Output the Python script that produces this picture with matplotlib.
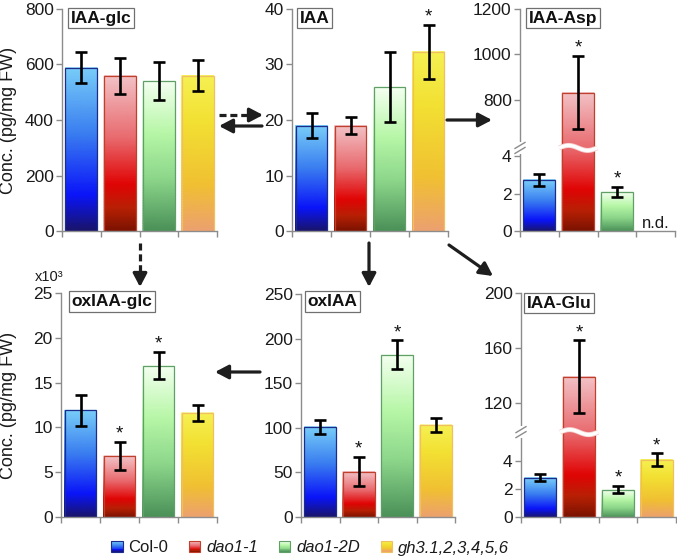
import numpy as np
import matplotlib
matplotlib.use('Agg')
import matplotlib.pyplot as plt
from matplotlib.colors import LinearSegmentedColormap
from matplotlib.patches import FancyArrowPatch, Rectangle, Patch
from matplotlib.lines import Line2D
from matplotlib.legend_handler import HandlerBase
import matplotlib.transforms as mtransforms

plt.rcParams['font.family'] = ['Liberation Sans', 'DejaVu Sans']

# ---------------- data ----------------
genotypes = ['Col-0', 'dao1-1', 'dao1-2D', 'gh3.1,2,3,4,5,6']

iaa_glc = [588, 560, 540, 560]
iaa_glc_err = [56, 65, 68, 56]
iaa_glc_sig = [False, False, False, False]

iaa = [19.0, 19.0, 25.9, 32.3]
iaa_err = [2.3, 1.5, 6.3, 4.9]
iaa_sig = [False, False, False, True]

iaa_asp = [2.74, 832, 2.1, np.nan]          # gh3: n.d.
iaa_asp_err = [0.34, 160, 0.27, np.nan]
iaa_asp_sig = [False, True, True, False]

oxiaa_glc = [11.9, 6.8, 16.9, 11.6]          # x10^3
oxiaa_glc_err = [1.7, 1.55, 1.55, 0.9]
oxiaa_glc_sig = [False, True, True, False]

oxiaa = [101, 51, 182, 103]
oxiaa_err = [8, 16, 16, 8]
oxiaa_sig = [False, True, True, False]

iaa_glu = [2.8, 139, 1.95, 4.1]
iaa_glu_err = [0.25, 26.5, 0.25, 0.45]
iaa_glu_sig = [False, True, True, True]

# ---------------- styles ----------------
W, H = 677, 560
fig = plt.figure(figsize=(W / 100, H / 100), dpi=100)

cmaps = [
    LinearSegmentedColormap.from_list('c0', [(0, '#1a1468'), (0.22, '#0a14f8'), (0.6, '#3a7ef0'), (1, '#78cdf8')]),
    LinearSegmentedColormap.from_list('c1', [(0, '#7a1200'), (0.15, '#b82004'), (0.3, '#e00404'), (0.6, '#e86a6e'), (1, '#f2c2c6')]),
    LinearSegmentedColormap.from_list('c2', [(0, '#4a9058'), (0.35, '#8cd68a'), (0.65, '#b6f6a6'), (1, '#f4fff0')]),
    LinearSegmentedColormap.from_list('c3', [(0, '#eca070'), (0.3, '#f0c032'), (0.7, '#f2e032'), (1, '#f5f052')]),
]
edges = ['#1c2c8c', '#c0402c', '#60a068', '#f0c060']
spine_c = '#8c8c8c'
arrow_c = '#1e1e1e'


def fpx(x, y):
    return (x / W, 1 - y / H)


def make_scale(b0, b1, k):
    def fwd(v):
        v = np.asarray(v, dtype=float)
        return np.where(v <= b0, v, np.where(v >= b1, b0 + (v - b1) * k, b0))

    def inv(u):
        u = np.asarray(u, dtype=float)
        return np.where(u <= b0, u, b1 + (u - b0) / k)
    return fwd, inv


def ident(v):
    return np.asarray(v, dtype=float)


panels = [
    dict(title='IAA-glc', vals=iaa_glc, errs=iaa_glc_err, sig=iaa_glc_sig, top=800,
         ticks=[0, 200, 400, 600, 800], box=(62, 9, 217, 231), brk=None, tdx=6, tdy=1),
    dict(title='IAA', vals=iaa, errs=iaa_err, sig=iaa_sig, top=40,
         ticks=[0, 10, 20, 30, 40], box=(292, 9, 448, 231), brk=None, tdx=5, tdy=1),
    dict(title='IAA-Asp', vals=iaa_asp, errs=iaa_asp_err, sig=iaa_asp_sig, top=1200,
         ticks=[0, 2, 4, 800, 1000, 1200], box=(520, 9, 675, 231), brk=(4.45, 588, 0.01216), tdx=6, tdy=1),
    dict(title='oxIAA-glc', vals=oxiaa_glc, errs=oxiaa_glc_err, sig=oxiaa_glc_sig, top=25,
         ticks=[0, 5, 10, 15, 20, 25], box=(61, 293, 217, 517), brk=None, tdx=8, tdy=1.5),
    dict(title='oxIAA', vals=oxiaa, errs=oxiaa_err, sig=oxiaa_sig, top=250,
         ticks=[0, 50, 100, 150, 200, 250], box=(301, 294, 455, 517), brk=None, tdx=4, tdy=2.5),
    dict(title='IAA-Glu', vals=iaa_glu, errs=iaa_glu_err, sig=iaa_glu_sig, top=200,
         ticks=[0, 2, 4, 120, 160, 200], box=(521, 293, 676, 517), brk=(6.07, 98.6, 0.0981), tdx=3, tdy=0),
]

bw = 0.82
xs = np.arange(len(genotypes))

for p in panels:
    x0, y0, x1, y1 = p['box']
    ax = fig.add_axes([x0 / W, 1 - y1 / H, (x1 - x0) / W, (y1 - y0) / H])
    if p['brk'] is not None:
        fwd, inv = make_scale(*p['brk'])
        ax.set_yscale('function', functions=(fwd, inv))
    else:
        fwd, inv = ident, ident
    ax.set_xlim(-0.5, 3.5)
    ax.set_ylim(0, p['top'])

    for i, (v, e) in enumerate(zip(p['vals'], p['errs'])):
        if np.isnan(v):
            continue
        u = np.linspace(float(fwd(0.0)), float(fwd(v)), 60)
        ys = inv(u)
        X = np.column_stack([np.full_like(ys, i - bw / 2), np.full_like(ys, i + bw / 2)])
        Y = np.column_stack([ys, ys])
        C = np.column_stack([u / u[-1], u / u[-1]])
        ax.pcolormesh(X, Y, C, cmap=cmaps[i], shading='gouraud', vmin=0, vmax=1, zorder=1)
        ax.bar(i, v, width=bw, facecolor='none', edgecolor=edges[i], linewidth=0.9, zorder=2)
        ax.errorbar(i, v, yerr=e, fmt='none', ecolor='black', elinewidth=1.9,
                    capsize=4.2, capthick=1.9, zorder=4)
        if p['sig'][i]:
            ax.annotate('*', xy=(i, v + e), xytext=(0, -0.5), textcoords='offset points',
                        ha='center', va='bottom', fontsize=13.5, color='#111111', zorder=5)

    if p['title'] == 'IAA-Asp':
        ax.annotate('n.d.', xy=(3, 0), xytext=(0, 2.5), textcoords='offset points',
                    ha='center', va='baseline', fontsize=12, color='#1a1a1a')

    # axes styling
    for s in ['top', 'right']:
        ax.spines[s].set_visible(False)
    for s in ['left', 'bottom']:
        ax.spines[s].set_color(spine_c)
        ax.spines[s].set_linewidth(1.0)
    ax.set_xticks([-0.5, 0.5, 1.5, 2.5, 3.5])
    ax.set_xticklabels([])
    ax.set_yticks(p['ticks'])
    ax.set_yticklabels([str(t) for t in p['ticks']])
    ax.yaxis.set_minor_locator(matplotlib.ticker.NullLocator())
    ax.tick_params(axis='both', direction='out', length=4, width=1.0, color=spine_c,
                   labelsize=12.5, labelcolor='#1a1a1a', pad=2)
    ax.set_facecolor('none')

    # title box
    pad_px = 2.6
    ax.annotate(p['title'], xy=(0, 1), xycoords='axes fraction',
                xytext=((p['tdx'] + pad_px) * 0.72, -(pad_px - p['tdy']) * 0.72),
                textcoords='offset points', ha='left', va='top', fontsize=12.5,
                fontweight='bold', color='#111111', zorder=6,
                bbox=dict(boxstyle='square,pad=0.15', fc='white', ec='#707070', lw=0.9))

    # broken axis decorations
    if p['brk'] is not None:
        b0 = p['brk'][0]
        f = float(fwd(b0)) / float(fwd(p['top']))
        axw, axh = (x1 - x0), (y1 - y0)
        ax.plot([0, 0], [f - 6 / axh, f + 6 / axh], transform=ax.transAxes, color='white',
                lw=3, clip_on=False, zorder=7, solid_capstyle='butt')
        for off in (-2.5, 2.5):
            ax.plot([-5 / axw, 5 / axw], [f + (off - 3) / axh, f + (off + 3) / axh],
                    transform=ax.transAxes, color=spine_c, lw=1.0, clip_on=False, zorder=8)
        # wavy break through the tall bar
        i_big = int(np.nanargmax(p['vals']))
        trans = mtransforms.blended_transform_factory(ax.transData, ax.transAxes)
        wx = np.linspace(i_big - bw / 2 - 0.08, i_big + bw / 2 + 0.08, 80)
        wy = f + (2.5 / axh) * np.sin(2 * np.pi * (wx - wx[0]) / (wx[-1] - wx[0]))
        ax.plot(wx, wy, transform=trans, color='#f6d0d0', lw=3.6, zorder=3, clip_on=False,
                solid_capstyle='butt')
        ax.plot(wx, wy, transform=trans, color='white', lw=2.4, zorder=3.1, clip_on=False,
                solid_capstyle='butt')

# y labels and multiplier
fig.text(*fpx(9, 120), 'Conc. (pg/mg FW)', rotation=90, ha='center', va='center',
         fontsize=13, color='#1a1a1a')
fig.text(*fpx(9, 405), 'Conc. (pg/mg FW)', rotation=90, ha='center', va='center',
         fontsize=13, color='#1a1a1a')
fig.text(*fpx(35, 277), 'x10³', ha='left', va='center', fontsize=10.5, color='#1a1a1a')


# ---------------- pathway arrows ----------------
def arrow(p0, p1, dashed=False):
    p0 = np.array(p0, float)
    p1 = np.array(p1, float)
    d = p1 - p0
    u = d / np.hypot(*d)
    style = '-|>,head_length=8,head_width=4.2'
    if dashed:
        base = p1 - u * 10
        ln = Line2D([p0[0] / W, base[0] / W], [1 - p0[1] / H, 1 - base[1] / H],
                    transform=fig.transFigure, color=arrow_c, lw=2.3,
                    linestyle=(0, (2.2, 1.2)), dash_capstyle='butt')
        fig.add_artist(ln)
        a = FancyArrowPatch(fpx(*(p1 - u * 12)), fpx(*p1), transform=fig.transFigure,
                            arrowstyle=style, mutation_scale=1, lw=2.3, color=arrow_c,
                            shrinkA=0, shrinkB=0)
    else:
        a = FancyArrowPatch(fpx(*p0), fpx(*p1), transform=fig.transFigure,
                            arrowstyle=style, mutation_scale=1, lw=2.3, color=arrow_c,
                            shrinkA=0, shrinkB=0)
    fig.add_artist(a)


arrow((219, 115), (263, 115), dashed=True)
arrow((262, 126), (219, 126))
arrow((447, 120), (492, 120))
arrow((140, 243), (140, 287), dashed=True)
arrow((369, 243), (369, 287))
arrow((449, 245), (493, 276))
arrow((260, 372), (215, 372))


# ---------------- legend ----------------
class GradHandler(HandlerBase):
    def __init__(self, cmap, ec):
        super().__init__()
        self.cmap = cmap
        self.ec = ec

    def create_artists(self, legend, orig_handle, xdescent, ydescent, width, height,
                       fontsize, trans):
        arts = []
        n = 12
        side = min(width, height)
        y0 = -ydescent + (height - side) / 2
        for k in range(n):
            arts.append(Rectangle((-xdescent, y0 + k * side / n), side, side / n * 1.05,
                                  facecolor=self.cmap((k + 0.5) / n), edgecolor='none',
                                  transform=trans))
        arts.append(Rectangle((-xdescent, y0), side, side, facecolor='none',
                              edgecolor=self.ec, lw=0.8, transform=trans))
        return arts


handles = [Patch(label=g) for g in genotypes]
hmap = {h: GradHandler(cmaps[i], edges[i]) for i, h in enumerate(handles)}
leg = fig.legend(handles=handles, labels=genotypes, handler_map=hmap, loc='center',
                 bbox_to_anchor=fpx(310, 548), ncol=4, frameon=False, fontsize=12,
                 handlelength=0.68, handleheight=0.68, handletextpad=0.35,
                 columnspacing=1.25, borderaxespad=0)
for k, t in enumerate(leg.get_texts()):
    t.set_color('#1a1a1a')
    if k > 0:
        t.set_style('italic')

fig.savefig('out.png', dpi=100)
